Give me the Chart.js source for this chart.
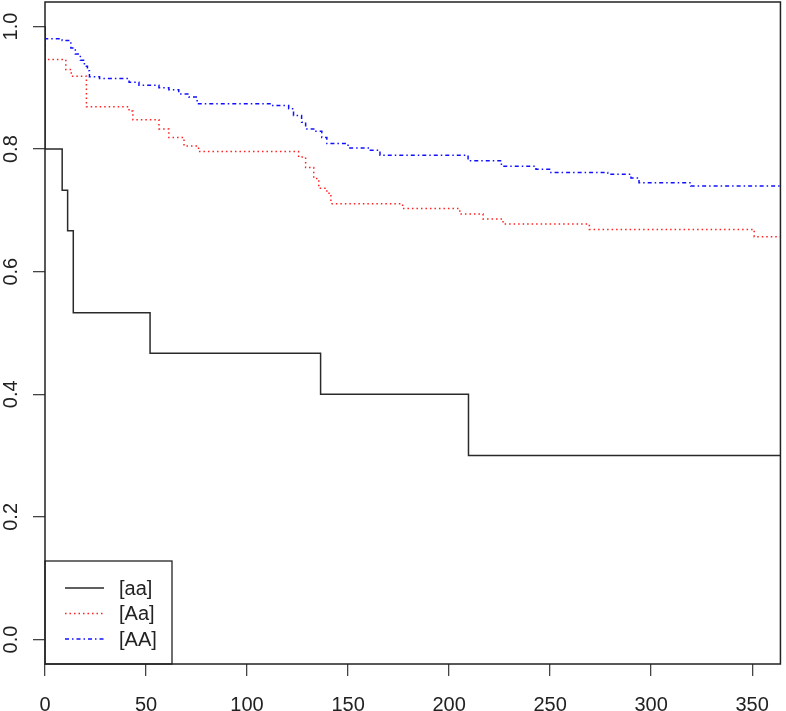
<!DOCTYPE html>
<html>
<head>
<meta charset="utf-8">
<script src="https://cdn.jsdelivr.net/npm/chart.js@4.4.1/dist/chart.umd.min.js"></script>
<style>
  html, body { margin: 0; padding: 0; background: #fff; }
</style>
</head>
<body>
<canvas id="km" width="786" height="711"></canvas>
<script>
// tick labels
const xTicks = [0, 50, 100, 150, 200, 250, 300, 350];
const yTicks = [0.0, 0.2, 0.4, 0.6, 0.8, 1.0];

// survival curves (time in days, survival fraction)
const aaTimes = [0, 0, 8.5, 11.2, 14, 52, 136.4, 209.6, 364];
const aaSurv  = [1, 0.8, 0.733, 0.667, 0.533, 0.467, 0.4, 0.3, 0.3];

const AaTimes = [0, 0, 10.3, 13, 20.5, 41.6, 43.5, 56.4, 61.3, 68.8, 76, 125.5, 129, 133, 135.5, 139.5, 141.5, 177, 205.3, 216.8, 226.7, 269.4, 351, 364];
const AaSurv  = [1, 0.946, 0.93, 0.919, 0.869, 0.862, 0.848, 0.833, 0.819, 0.805, 0.796, 0.787, 0.770, 0.752, 0.736, 0.728, 0.711, 0.703, 0.694, 0.686, 0.678, 0.669, 0.657, 0.657];

const AATimes = [0, 0, 8.5, 12.8, 15, 17.5, 19.5, 21, 22, 27, 41.6, 46.5, 56.4, 61.3, 66.2, 71.2, 75.3, 112, 120.6, 123, 127, 129, 133, 137, 139.5, 150, 160, 165.8, 209.4, 225.9, 243, 249.7, 278.5, 290, 294, 319.6, 364];
const AASurv  = [1, 0.98, 0.977, 0.965, 0.955, 0.945, 0.935, 0.928, 0.918, 0.915, 0.909, 0.904, 0.9, 0.897, 0.89, 0.885, 0.874, 0.871, 0.866, 0.855, 0.844, 0.833, 0.829, 0.819, 0.809, 0.802, 0.798, 0.79, 0.781, 0.772, 0.767, 0.762, 0.759, 0.753, 0.745, 0.74, 0.74];

const groupLabels = ['[aa]', '[Aa]', '[AA]'];

const pts = (t, s) => t.map((v, i) => ({ x: v, y: s[i] }));
const FONT = '"Liberation Sans", Arial, sans-serif';

// box round the plot, rotated y labels and the legend, drawn R-style
const rStyle = {
    id: 'rStyle',
    afterDraw(chart) {
        const { ctx, chartArea: a, scales } = chart;
        ctx.save();
        ctx.strokeStyle = '#222';
        ctx.lineWidth = 1.5;
        ctx.strokeRect(a.left, a.top, a.right - a.left, a.bottom - a.top);

        // y tick labels, rotated
        ctx.fillStyle = '#222';
        ctx.font = '20px ' + FONT;
        ctx.textAlign = 'center';
        ctx.textBaseline = 'middle';
        yTicks.forEach(v => {
            const y = scales.y.getPixelForValue(v);
            ctx.save();
            ctx.translate(10, y);
            ctx.rotate(-Math.PI / 2);
            ctx.fillText(v.toFixed(1), 0, 1);
            ctx.restore();
        });

        // legend
        const lx = a.left, ly = 561, lw = 127, lh = a.bottom - 561;
        ctx.lineWidth = 1.3;
        ctx.strokeStyle = '#222';
        ctx.strokeRect(lx, ly, lw, lh);
        ctx.textAlign = 'left';
        chart.data.datasets.forEach((ds, i) => {
            const y = 588 + i * 25.5;
            ctx.save();
            ctx.strokeStyle = ds.borderColor;
            ctx.lineWidth = ds.borderWidth;
            ctx.setLineDash(ds.borderDash || []);
            ctx.beginPath();
            ctx.moveTo(lx + 20, y);
            ctx.lineTo(lx + 59, y);
            ctx.stroke();
            ctx.restore();
            ctx.fillStyle = '#222';
            ctx.fillText(ds.label, lx + 74, y + 1);
        });
        ctx.restore();
    }
};

new Chart(document.getElementById('km'), {
    type: 'line',
    data: {
        datasets: [
            { label: groupLabels[0], data: pts(aaTimes, aaSurv), borderColor: '#2a2a2a', borderWidth: 1.5, stepped: 'before', pointRadius: 0, fill: false },
            { label: groupLabels[1], data: pts(AaTimes, AaSurv), borderColor: '#ff2020', borderWidth: 1.5, borderDash: [1.5, 3], stepped: 'before', pointRadius: 0, fill: false },
            { label: groupLabels[2], data: pts(AATimes, AASurv), borderColor: '#1010ff', borderWidth: 1.5, borderDash: [4, 3, 1.5, 3], stepped: 'before', pointRadius: 0, fill: false }
        ]
    },
    options: {
        responsive: false,
        animation: false,
        devicePixelRatio: 1,
        layout: { padding: { top: 2, right: 4, left: 0, bottom: 0 } },
        plugins: { legend: { display: false }, tooltip: { enabled: false } },
        scales: {
            x: {
                type: 'linear',
                min: 0,
                max: 364,
                afterBuildTicks: s => { s.ticks = xTicks.map(v => ({ value: v })); },
                afterFit: s => { s.height = 47; },
                grid: { drawOnChartArea: false, drawTicks: true, tickLength: 12, color: '#444', lineWidth: 1.3 },
                border: { display: false },
                ticks: { color: '#222', padding: 17, maxRotation: 0, font: { family: FONT, size: 20 } }
            },
            y: {
                type: 'linear',
                min: -0.04,
                max: 1.04,
                afterBuildTicks: s => { s.ticks = yTicks.map(v => ({ value: v })); },
                afterFit: s => { s.width = 45; },
                grid: { drawOnChartArea: false, drawTicks: true, tickLength: 12, color: '#444', lineWidth: 1.3 },
                border: { display: false },
                ticks: { display: false }
            }
        }
    },
    plugins: [rStyle]
});
</script>
</body>
</html>
